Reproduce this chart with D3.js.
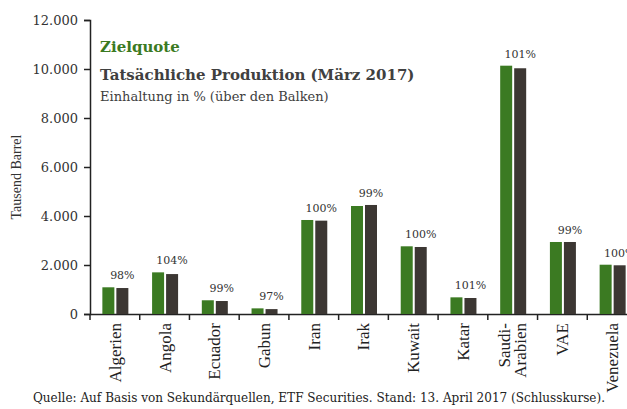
<!DOCTYPE html>
<html><head><meta charset="utf-8">
<script src="https://cdn.jsdelivr.net/npm/d3@7"></script>
<style>
body{margin:0;background:#fff;}
svg{display:block;}
</style></head>
<body>
<svg id="c" width="627" height="409"></svg>
<script>
const categories = ["Algerien","Angola","Ecuador","Gabun","Iran","Irak","Kuwait","Katar","Saudi-Arabien","VAE","Venezuela"];
const zielquote = [1090,1700,560,230,3837,4408,2763,680,10135,2939,2012];
const produktion = [1060,1630,530,200,3810,4450,2735,653,10030,2939,1988];
const einhaltung = ["98%","104%","99%","97%","100%","99%","100%","101%","101%","99%","100%"];
const yTicks = [0,2000,4000,6000,8000,10000,12000];

const svg = d3.select("#c");
const serif = "'DejaVu Serif', Georgia, serif";
const green = "#3b7a22", dark = "#3c3733", txt = "#404040";

const x = d3.scaleBand().domain(categories).range([90, 637]).paddingInner(0).paddingOuter(0);
const y = d3.scaleLinear().domain([0,12000]).range([314, 20]);
const fmt = d => d3.format(",")(d).replace(/,/g, ".");

// y axis
const ya = svg.append("g").attr("transform","translate(90,0)")
  .call(d3.axisLeft(y).tickValues(yTicks).tickFormat(fmt).tickSize(6).tickPadding(6));
ya.select(".domain").attr("stroke","#222").attr("stroke-width",1.5);
ya.selectAll(".tick line").attr("stroke","#222").attr("stroke-width",1.5);
ya.selectAll(".tick text").attr("font-family",serif).attr("font-size",13).attr("fill","#333");

// x axis
const xa = svg.append("g").attr("transform","translate(0,314)")
  .call(d3.axisBottom(x).tickValues([]).tickSizeOuter(0));
xa.select(".domain").attr("stroke","#222").attr("stroke-width",1.5);
svg.append("g").selectAll("line").data(categories).join("line")
  .attr("x1", d => x(d)).attr("x2", d => x(d))
  .attr("y1", 314).attr("y2", 320)
  .attr("stroke","#222").attr("stroke-width",1.5);

const bw = 12, gap = 2;
const groups = svg.append("g").selectAll("g").data(categories).join("g");
groups.append("rect")
  .attr("x", d => x(d) + x.bandwidth()/2 - bw - gap/2 + 0.5)
  .attr("width", bw)
  .attr("y", (d,i) => y(zielquote[i]))
  .attr("height", (d,i) => y(0) - y(zielquote[i]))
  .attr("fill", green);
groups.append("rect")
  .attr("x", d => x(d) + x.bandwidth()/2 + gap/2 + 0.5)
  .attr("width", bw)
  .attr("y", (d,i) => y(produktion[i]))
  .attr("height", (d,i) => y(0) - y(produktion[i]))
  .attr("fill", dark);
groups.append("text")
  .attr("x", d => x(d) + x.bandwidth()/2 + gap/2 + bw/2 + 0.5)
  .attr("y", (d,i) => y(Math.max(zielquote[i], produktion[i])) - 8)
  .attr("text-anchor","middle")
  .attr("font-family",serif).attr("font-size",11).attr("fill","#333")
  .text((d,i) => einhaltung[i]);

// category labels
const cl = svg.append("g").selectAll("text").data(categories).join("text")
  .attr("transform", d => `translate(${x(d)+x.bandwidth()/2},320) rotate(-90)`)
  .attr("text-anchor","end")
  .attr("font-family","'Liberation Serif', 'Times New Roman', serif")
  .attr("font-size",17).attr("fill","#222");
cl.each(function(d){
  const t = d3.select(this);
  if (d === "Saudi-Arabien") {
    t.append("tspan").attr("x",-3).attr("dy","-0.15em").text("Saudi-");
    t.append("tspan").attr("x",-3).attr("dy","0.95em").text("Arabien");
  } else {
    t.append("tspan").attr("x",-3).attr("dy","0.35em").text(d);
  }
});

// y axis title
svg.append("text")
  .attr("transform","translate(21,177) rotate(-90)")
  .attr("text-anchor","middle")
  .attr("font-family","'Liberation Serif', serif").attr("font-size",14).attr("fill","#333")
  .text("Tausend Barrel");

// legend texts
svg.append("text").attr("x",100).attr("y",52)
  .attr("font-family",serif).attr("font-weight","bold").attr("font-size",15).attr("fill",green)
  .text("Zielquote");
svg.append("text").attr("x",100).attr("y",80)
  .attr("font-family",serif).attr("font-weight","bold").attr("font-size",15).attr("fill",txt)
  .text("Tatsächliche Produktion (März 2017)");
svg.append("text").attr("x",100).attr("y",101)
  .attr("font-family",serif).attr("font-size",13).attr("fill",txt)
  .text("Einhaltung in % (über den Balken)");

// source
svg.append("text").attr("x",33).attr("y",402)
  .attr("font-family",serif).attr("font-size",12).attr("fill","#222")
  .attr("textLength",572).attr("lengthAdjust","spacingAndGlyphs")
  .text("Quelle: Auf Basis von Sekundärquellen, ETF Securities. Stand: 13. April 2017 (Schlusskurse).");
</script>
</body></html>
